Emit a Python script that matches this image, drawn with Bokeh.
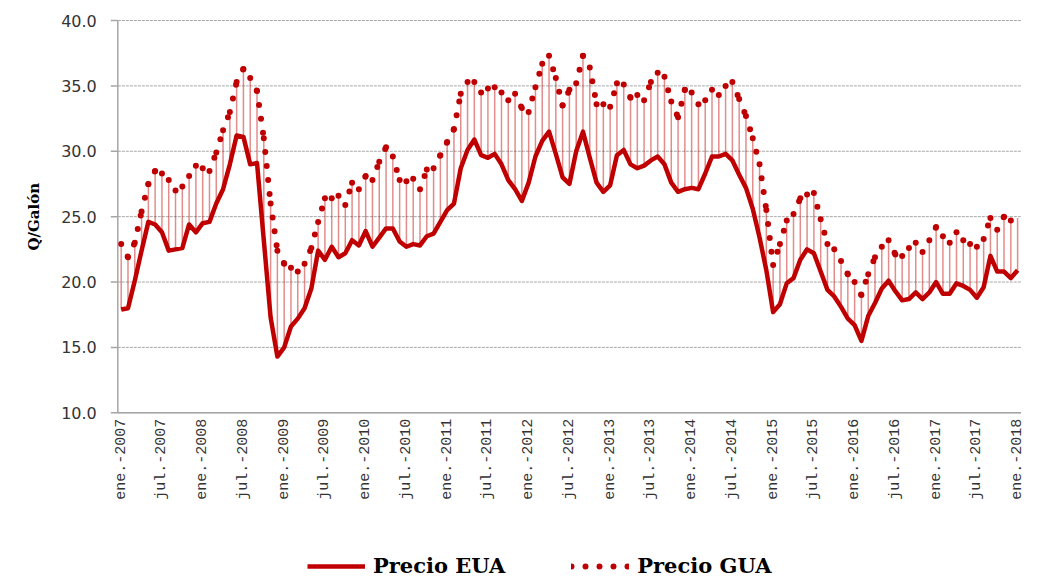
import math
from bokeh.plotting import figure
from bokeh.models import Range1d, Legend, LegendItem
from bokeh.core.properties import value
from bokeh.embed import file_html
from bokeh.resources import INLINE

tick_labels = ["ene.-2007", "jul.-2007", "ene.-2008", "jul.-2008", "ene.-2009", "jul.-2009",
               "ene.-2010", "jul.-2010", "ene.-2011", "jul.-2011", "ene.-2012", "jul.-2012",
               "ene.-2013", "jul.-2013", "ene.-2014", "jul.-2014", "ene.-2015", "jul.-2015",
               "ene.-2016", "jul.-2016", "ene.-2017", "jul.-2017", "ene.-2018"]

y_ticks = [10, 15, 20, 25, 30, 35, 40]
y_tick_labels = ["10.0", "15.0", "20.0", "25.0", "30.0", "35.0", "40.0"]

precio_eua = [17.9, 18.0, 20.1, 22.4, 24.6, 24.4, 23.8, 22.4, 22.5, 22.6, 24.4, 23.8,
              24.5, 24.6, 26.0, 27.1, 29.0, 31.2, 31.1, 29.0, 29.1, 23.2, 17.3, 14.3,
              15.0, 16.6, 17.2, 18.0, 19.5, 22.4, 21.7, 22.7, 21.9, 22.2, 23.2, 22.8,
              23.9, 22.7, 23.4, 24.1, 24.1, 23.1, 22.7, 22.9, 22.8, 23.5, 23.7, 24.6,
              25.5, 26.0, 28.7, 30.1, 30.9, 29.7, 29.5, 29.8, 29.0, 27.8, 27.1, 26.2,
              27.6, 29.6, 30.8, 31.5, 29.8, 28.0, 27.5, 30.0, 31.5, 29.5, 27.6, 26.9,
              27.4, 29.7, 30.1, 29.0, 28.7, 28.9, 29.3, 29.6, 29.0, 27.6, 26.9, 27.1,
              27.2, 27.1, 28.3, 29.6, 29.6, 29.8, 29.3, 28.2, 27.2, 25.6, 23.4, 20.9,
              17.7, 18.3, 19.9, 20.3, 21.7, 22.5, 22.2, 20.8, 19.4, 18.9, 18.1, 17.2,
              16.7, 15.5, 17.4, 18.4, 19.5, 20.1, 19.3, 18.6, 18.7, 19.2, 18.7, 19.2,
              20.0, 19.1, 19.1, 19.9, 19.7, 19.4, 18.8, 19.6, 22.0, 20.8, 20.8, 20.3,
              20.9]

precio_gua = [22.9, 21.9, 23.0, 25.4, 27.5, 28.5, 28.3, 27.8, 27.0, 27.3, 28.1, 28.9,
              28.7, 28.5, 29.9, 31.6, 33.0, 35.3, 36.3, 35.6, 34.6, 31.0, 26.0, 22.4,
              21.4, 21.1, 20.8, 21.4, 22.6, 24.6, 26.4, 26.4, 26.6, 25.9, 27.6, 27.1,
              28.1, 27.8, 29.2, 30.3, 29.6, 27.8, 27.7, 27.9, 27.1, 28.6, 28.7, 29.7,
              30.7, 31.7, 34.4, 35.3, 35.3, 34.5, 34.8, 34.9, 34.5, 33.9, 34.4, 33.3,
              33.0, 34.9, 36.7, 37.3, 35.6, 33.5, 34.7, 35.2, 37.3, 36.4, 33.6, 33.6,
              33.4, 35.2, 35.1, 34.1, 34.3, 33.9, 35.3, 36.0, 35.7, 33.8, 32.6, 34.7,
              34.5, 33.6, 33.9, 34.7, 34.3, 35.0, 35.3, 34.0, 32.7, 31.0, 29.0, 25.5,
              21.3, 22.9, 24.7, 25.2, 26.4, 26.7, 26.8, 24.8, 22.9, 22.5, 21.6, 20.6,
              20.0, 19.0, 20.6, 21.9, 22.7, 23.2, 22.1, 22.0, 22.6, 23.0, 22.3, 23.2,
              24.2, 23.5, 23.0, 23.8, 23.2, 22.9, 22.7, 23.3, 24.9, 24.0, 25.0, 24.7,
              24.9]

RED = "#C00000"
GRAY = "#A6A6A6"
n = len(precio_eua)
idx = list(range(n))
Y_MIN, Y_MAX = y_ticks[0], y_ticks[-1]

# The frame covers the whole canvas; axes are drawn as glyphs so nothing is clipped.
W, H = 1033, 578
AREA_LEFT_PX = 117.3          # screen x of the left edge of the category area
AREA_TOP_PX = 20.0            # screen y of the 40.0 gridline
ppm = 6.791                   # pixels per month
ppu = 392.3 / (Y_MAX - Y_MIN) # pixels per Q
x_start = -0.5 - AREA_LEFT_PX / ppm
y_end = Y_MAX + AREA_TOP_PX / ppu

p = figure(width=W, height=H, output_backend="svg", toolbar_location=None,
           x_range=Range1d(x_start, x_start + W / ppm),
           y_range=Range1d(y_end - H / ppu, y_end),
           min_border_left=0, min_border_right=0, min_border_top=0,
           min_border_bottom=0)
p.outline_line_color = None
p.background_fill_color = "white"
p.xgrid.visible = False
p.ygrid.visible = False
p.xaxis.visible = False
p.yaxis.visible = False

x0 = -0.5
x1 = n - 0.5
tick_len = 7 / ppm

# horizontal grid over the category area
p.segment(x0=[x0] * len(y_ticks), x1=[x1] * len(y_ticks), y0=y_ticks, y1=y_ticks,
          line_color="#A8A8A8", line_dash="3 1", line_width=1)

# category axis
p.segment(x0=[x0], x1=[x1], y0=[Y_MIN], y1=[Y_MIN], line_color=GRAY, line_width=1.5)
tick_pos = list(range(0, n, 6))
p.text(x=tick_pos, y=[Y_MIN] * len(tick_pos), text=tick_labels, angle=math.pi / 2,
       text_align="right", text_baseline="middle", y_offset=6,
       text_font=value("Liberation Mono"), text_font_size="15px", text_color="#333333")

# value axis
p.segment(x0=[x0], x1=[x0], y0=[Y_MIN], y1=[Y_MAX], line_color=GRAY, line_width=1.5)
p.segment(x0=[x0 - tick_len] * len(y_ticks), x1=[x0] * len(y_ticks), y0=y_ticks, y1=y_ticks,
          line_color=GRAY, line_width=1.5)
p.text(x=[x0] * len(y_ticks), y=y_ticks, text=y_tick_labels, x_offset=-21,
       text_align="right", text_baseline="middle",
       text_font=value("DejaVu Sans"), text_font_size="16px", text_color="#333333")
p.text(x=[x0], y=[(Y_MIN + Y_MAX) / 2], text=["Q/Galón"], angle=math.pi / 2, x_offset=-84,
       text_align="center", text_baseline="middle",
       text_font=value("DejaVu Serif"), text_font_style="bold", text_font_size="15px",
       text_color="black")

# high-low lines
p.segment(x0=idx, y0=precio_eua, x1=idx, y1=precio_gua,
          line_color=RED, line_alpha=0.45, line_width=1.5)

r_eua = p.line(idx, precio_eua, line_color=RED, line_width=4.5, line_join="round")

# GUA: round-dot line, dash pattern restarting at every point
xs = [[i, i + 1] for i in range(n - 1)]
ys = [[precio_gua[i], precio_gua[i + 1]] for i in range(n - 1)]
r_gua = p.multi_line(xs=xs, ys=ys, line_color=RED, line_width=6,
                     line_dash="0 14", line_cap="round")

legend = Legend(items=[LegendItem(label="Precio EUA", renderers=[r_eua]),
                       LegendItem(label="Precio GUA", renderers=[r_gua])],
                orientation="horizontal", location=(307, 0),
                border_line_color=None, background_fill_alpha=0,
                padding=0, margin=0, spacing=66,
                glyph_width=58, glyph_height=20, label_standoff=8,
                label_text_font="DejaVu Serif", label_text_font_style="bold",
                label_text_font_size="21px", label_text_color="black")
p.add_layout(legend)

open("out.html", "w").write(file_html(p, INLINE))
